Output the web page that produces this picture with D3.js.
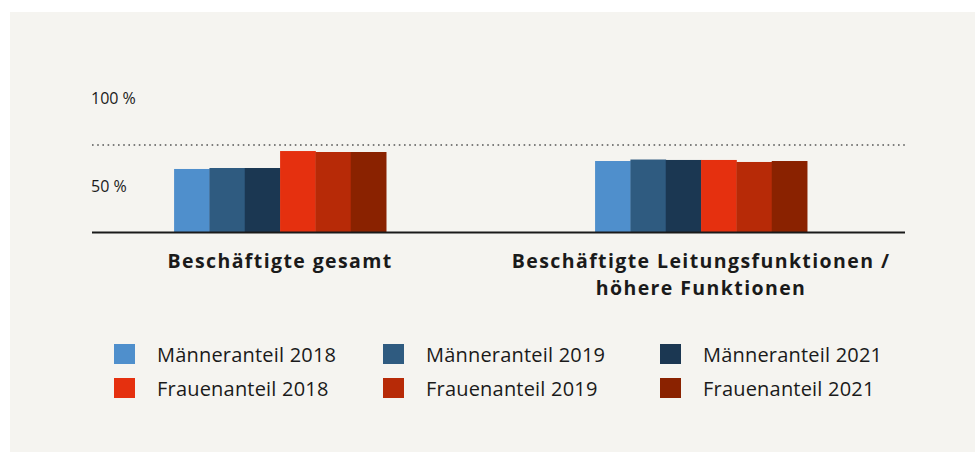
<!DOCTYPE html>
<html>
<head>
<meta charset="utf-8">
<script src="https://cdn.jsdelivr.net/npm/d3@7"></script>
<style>
  body { margin: 0; background: #fff; }
  svg { display: block; font-family: 'Open Sans', 'Noto Sans', sans-serif; }
</style>
</head>
<body>
<script>
// categories and series
var categories = ['Beschäftigte gesamt', 'Beschäftigte Leitungsfunktionen /\nhöhere Funktionen'];
var seriesNames = ['Männeranteil 2018', 'Männeranteil 2019', 'Männeranteil 2021',
                   'Frauenanteil 2018', 'Frauenanteil 2019', 'Frauenanteil 2021'];
var seriesColors = ['#4f8fcc', '#2f5b80', '#1b3752', '#e5300f', '#b72a07', '#8a2200'];
// values per category, in series order
var gesamt = [72.6, 73.7, 73.7, 93.1, 92.0, 92.0];
var leitung = [81.7, 83.4, 82.9, 82.9, 80.6, 81.7];
var yTicks = [50, 100];
var yTickLabels = ['50 %', '100 %'];

var values = [gesamt, leitung];

var width = 975, height = 452;

var svg = d3.select('body').append('svg')
    .attr('width', width)
    .attr('height', height);

svg.append('rect')
    .attr('x', 10).attr('y', 12)
    .attr('width', width - 10).attr('height', height - 12)
    .attr('fill', '#f5f4f0');

var x0 = d3.scaleBand()
    .domain(categories)
    .range([92, 905])
    .paddingInner(0.4964)
    .paddingOuter(0.2138)
    .align(0.456);

var x1 = d3.scaleBand()
    .domain(seriesNames)
    .range([0, x0.bandwidth()]);

var y = d3.scaleLinear().domain([0, 100]).range([232.5, 145]);

// dotted 100 % reference line
svg.append('line')
    .attr('x1', 92).attr('x2', 905)
    .attr('y1', y(100)).attr('y2', y(100))
    .attr('stroke', '#555')
    .attr('stroke-width', 1.6)
    .attr('stroke-dasharray', '1.6,3.6');

// y labels
svg.selectAll('.ylab')
    .data(yTicks)
    .enter()
    .append('text')
    .attr('class', 'ylab')
    .attr('x', 91)
    .attr('y', function (d) { return d === 100 ? y(100) - 41 : y(d) + 3.5; })
    .attr('font-size', 16)
    .attr('fill', '#1a1a1a')
    .text(function (d, i) { return yTickLabels[i]; });

// bars
var groups = svg.selectAll('.grp')
    .data(categories)
    .enter()
    .append('g')
    .attr('transform', function (d) { return 'translate(' + x0(d) + ',0)'; });

groups.selectAll('rect')
    .data(function (d, i) {
        return seriesNames.map(function (s, j) { return { s: s, v: values[i][j], c: seriesColors[j] }; });
    })
    .enter()
    .append('rect')
    .attr('x', function (d) { return x1(d.s); })
    .attr('y', function (d) { return y(d.v); })
    .attr('width', x1.bandwidth() + 0.4)
    .attr('height', function (d) { return y(0) - y(d.v); })
    .attr('fill', function (d) { return d.c; });

// baseline
svg.append('line')
    .attr('x1', 92).attr('x2', 905)
    .attr('y1', y(0)).attr('y2', y(0))
    .attr('stroke', '#1a1a1a')
    .attr('stroke-width', 2);

// category labels
groups.append('text')
    .attr('text-anchor', 'middle')
    .attr('font-size', 19.5)
    .attr('font-weight', 'bold')
    .attr('letter-spacing', 1.4)
    .attr('fill', '#1a1a1a')
    .selectAll('tspan')
    .data(function (d) { return d.split('\n'); })
    .enter()
    .append('tspan')
    .attr('x', x0.bandwidth() / 2)
    .attr('y', function (d, i) { return 268 + i * 27; })
    .text(function (d) { return d; });

// legend
var legendX = [114, 383, 660];
var legend = svg.selectAll('.leg')
    .data(seriesNames)
    .enter()
    .append('g')
    .attr('transform', function (d, i) {
        return 'translate(' + legendX[i % 3] + ',' + (344 + Math.floor(i / 3) * 34) + ')';
    });

legend.append('rect')
    .attr('width', 21).attr('height', 20)
    .attr('fill', function (d, i) { return seriesColors[i]; });

legend.append('text')
    .attr('x', 43)
    .attr('y', 18)
    .attr('font-size', 20)
    .attr('letter-spacing', 0.2)
    .attr('fill', '#1a1a1a')
    .text(function (d) { return d; });
</script>
</body>
</html>
